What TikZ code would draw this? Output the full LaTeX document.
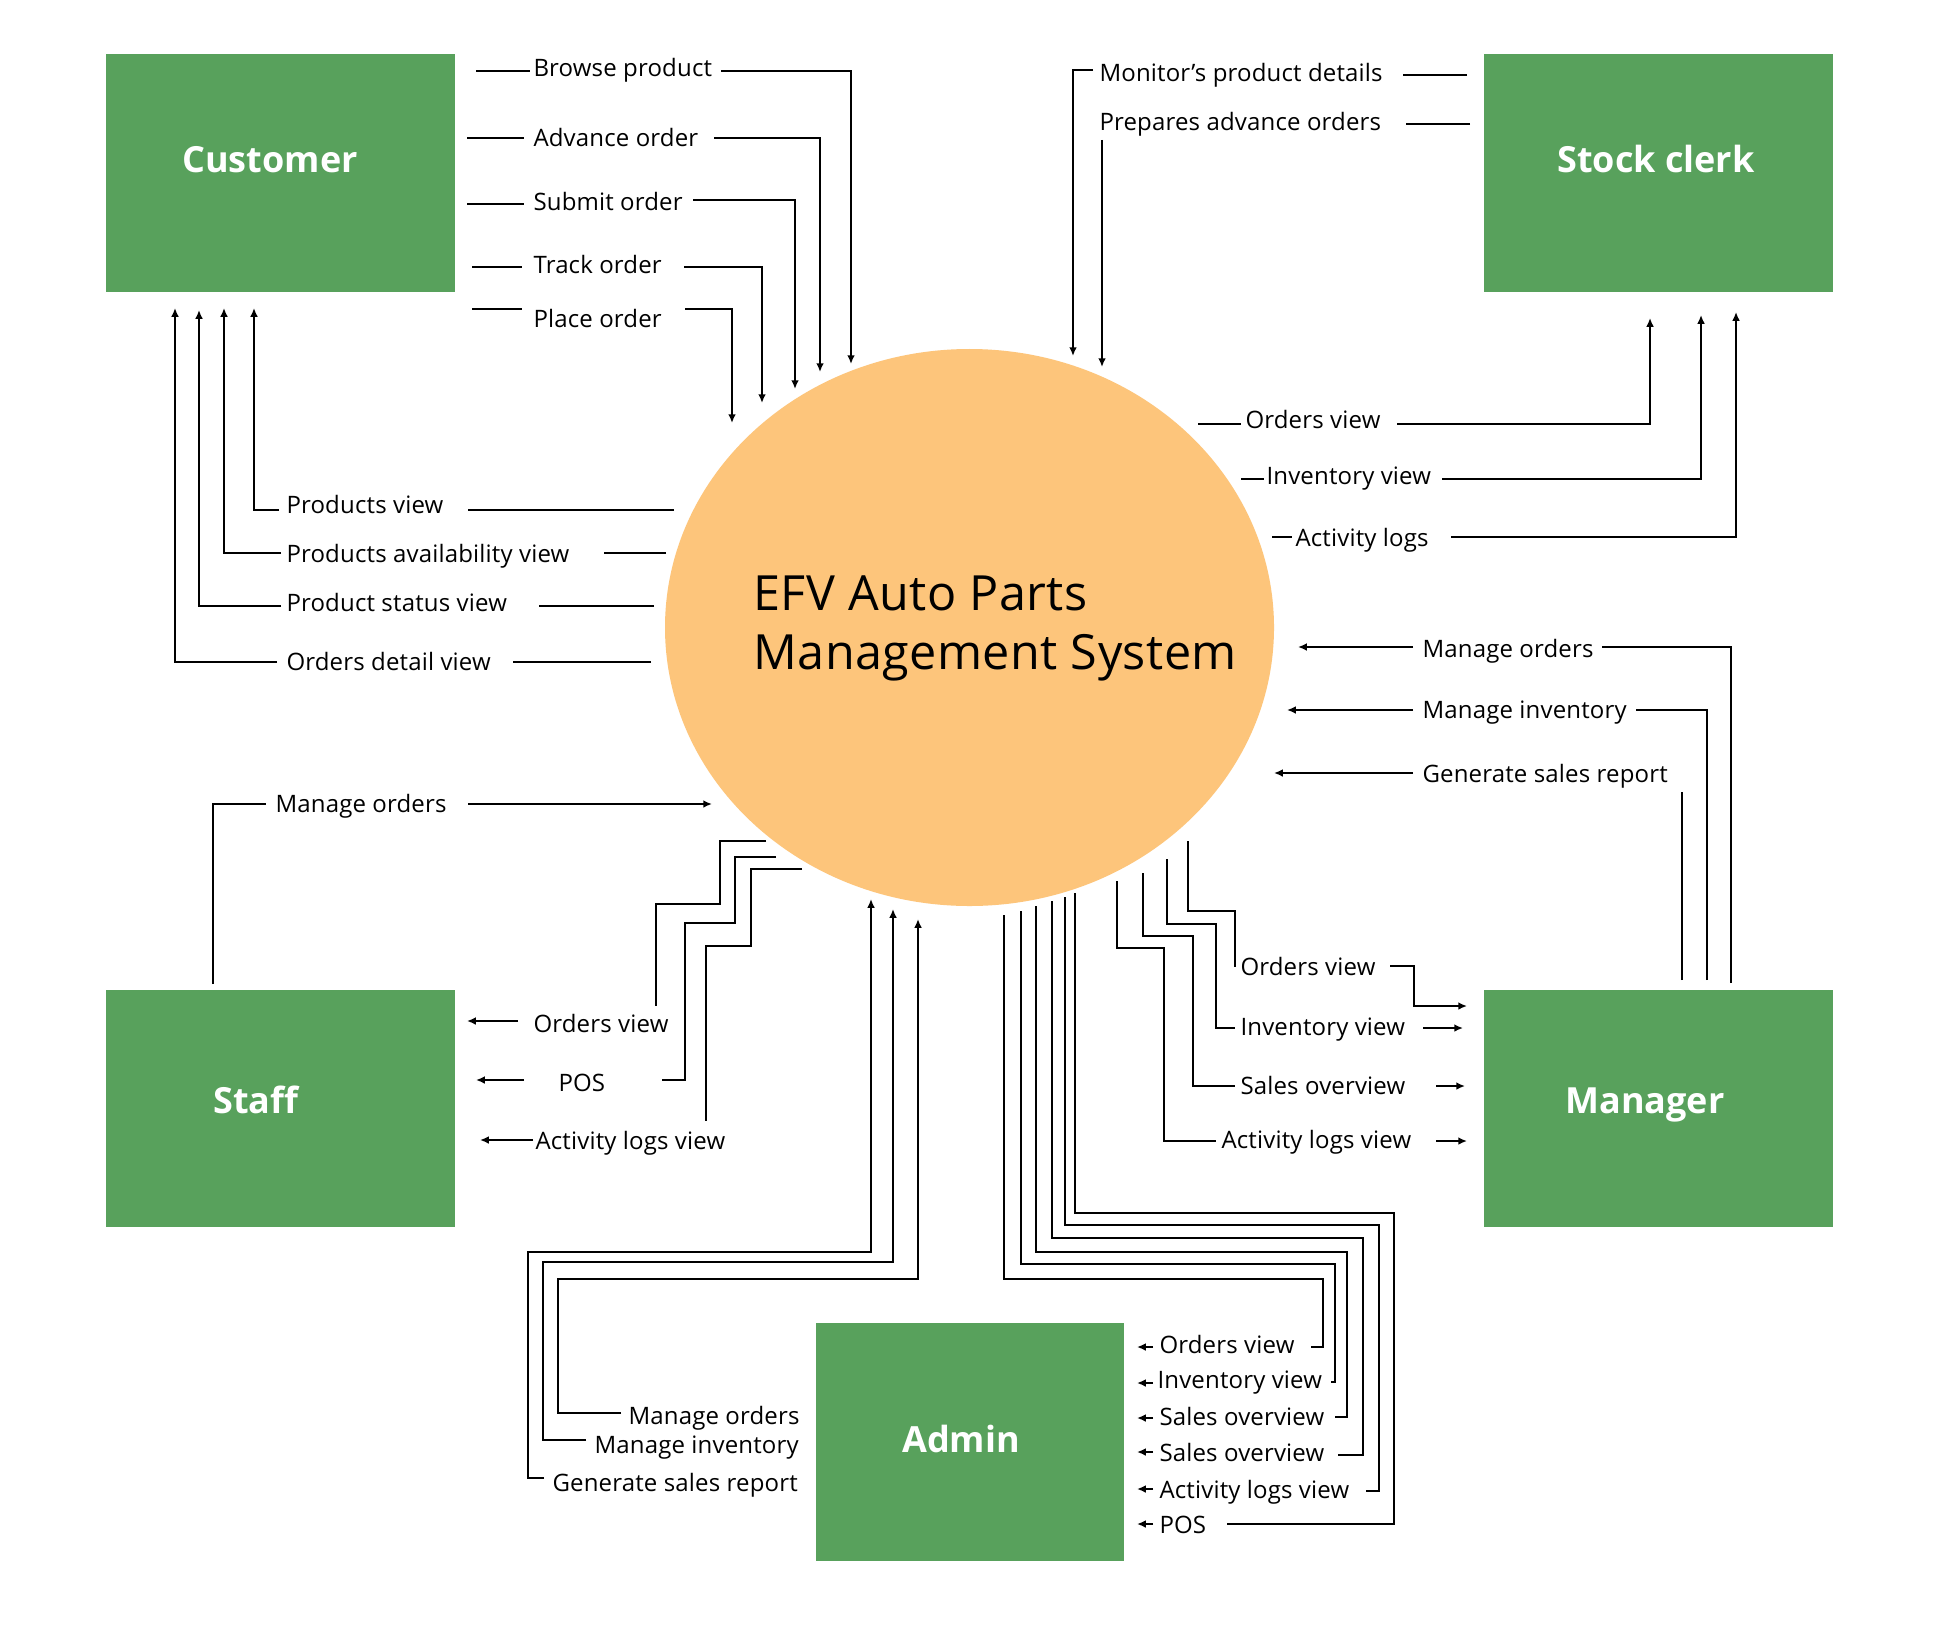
\documentclass[tikz,border=0pt]{standalone}
\usepackage{fontspec}
\setmainfont{Open Sans}
\usetikzlibrary{arrows.meta,shapes.geometric}
\definecolor{boxgreen}{HTML}{58A15C}
\definecolor{sysorange}{HTML}{FDC57B}
\begin{document}
\begin{tikzpicture}[x=0.4pt,y=-0.4pt,
  conn/.style={draw=black, line width=0.8pt},
  arr/.style={conn,-{Latex[length=3.5pt,width=3.1pt]}},
  lbl/.style={font=\fontsize{9.6}{11}\selectfont\addfontfeature{LetterSpace=0.7}, inner sep=0pt, anchor=base west},
  actor/.style={fill=boxgreen, draw=none, inner sep=0pt, anchor=north west},
  actorlbl/.style={font=\fontsize{14.4}{17}\selectfont\bfseries, text=white, inner sep=0pt, anchor=base},
  systxt/.style={font=\fontsize{19.4}{23}\selectfont\addfontfeature{LetterSpace=0.9}, inner sep=0pt, anchor=base west}
]
\fill[white] (0,0) rectangle (1938,1632);
\useasboundingbox (0,0) rectangle (1938,1632);

% ---------- actors ----------
\node[actor, minimum width=139.6pt, minimum height=94.8pt] (customer) at (105,54) {};
\node[actor, minimum width=139.6pt, minimum height=94.8pt] (stock) at (1483,54) {};
\node[actor, minimum width=139.6pt, minimum height=94.8pt] (staff) at (105,989) {};
\node[actor, minimum width=139.6pt, minimum height=94.8pt] (manager) at (1483,989) {};
\node[actor, minimum width=123.2pt, minimum height=95.2pt] (admin) at (815,1322) {};
\node[actorlbl] (customerT) at (270,173) {Customer};
\node[actorlbl] (stockT) at (1656,173) {Stock clerk};
\node[actorlbl] (staffT) at (256,1113) {Staff};
\node[actorlbl] (managerT) at (1645,1113) {Manager};
\node[actorlbl] (adminT) at (961,1452) {Admin};

% ---------- system ----------
\node[ellipse, fill=sysorange, draw=none, inner sep=0pt, minimum width=243.6pt, minimum height=222.8pt] (sys) at (969.5,627.5) {};
\node[systxt] (sysT1) at (753,610) {EFV Auto Parts};
\node[systxt] (sysT2) at (753,669) {Management System};

% ---------- Customer -> system ----------
\node[lbl] (lBrowse) at (533,77) {Browse product};
\node[lbl] (lAdv) at (533,146) {Advance order};
\node[lbl] (lSubmit) at (533,210) {Submit order};
\node[lbl] (lTrack) at (533,273) {Track order};
\node[lbl] (lPlace) at (533,327) {Place order};
\coordinate (brA) at (476,71); \coordinate (brB) at (530,71);
\coordinate (brC) at (721,71); \coordinate (brD) at (851,364);
\coordinate (adA) at (467,138); \coordinate (adB) at (524,138);
\coordinate (adC) at (714,138); \coordinate (adD) at (820,372);
\coordinate (suA) at (467,204); \coordinate (suB) at (524,204);
\coordinate (suC) at (693,200); \coordinate (suD) at (795,389);
\coordinate (trA) at (472,267); \coordinate (trB) at (522,267);
\coordinate (trC) at (684,267); \coordinate (trD) at (762,403);
\coordinate (plA) at (472,309); \coordinate (plB) at (522,309);
\coordinate (plC) at (685,309); \coordinate (plD) at (732,423);
\draw[conn] (brA) -- (brB); \draw[arr] (brC) -| (brD);
\draw[conn] (adA) -- (adB); \draw[arr] (adC) -| (adD);
\draw[conn] (suA) -- (suB); \draw[arr] (suC) -| (suD);
\draw[conn] (trA) -- (trB); \draw[arr] (trC) -| (trD);
\draw[conn] (plA) -- (plB); \draw[arr] (plC) -| (plD);

% ---------- system -> Customer ----------
\node[lbl] (lPv) at (286,513) {Products view};
\node[lbl] (lPav) at (286,562) {Products availability view};
\node[lbl] (lPsv) at (286,611) {Product status view};
\node[lbl] (lOdv) at (286,670) {Orders detail view};
\coordinate (pvA) at (674,510); \coordinate (pvB) at (468,510);
\coordinate (pvC) at (279,510); \coordinate (pvD) at (254,308);
\coordinate (paA) at (666,553); \coordinate (paB) at (604,553);
\coordinate (paC) at (281,553); \coordinate (paD) at (224,308);
\coordinate (psA) at (654,606); \coordinate (psB) at (539,606);
\coordinate (psC) at (281,606); \coordinate (psD) at (199,310);
\coordinate (odA) at (651,662); \coordinate (odB) at (513,662);
\coordinate (odC) at (277,662); \coordinate (odD) at (175,308);
\draw[conn] (pvA) -- (pvB); \draw[arr] (pvC) -| (pvD);
\draw[conn] (paA) -- (paB); \draw[arr] (paC) -| (paD);
\draw[conn] (psA) -- (psB); \draw[arr] (psC) -| (psD);
\draw[conn] (odA) -- (odB); \draw[arr] (odC) -| (odD);

% ---------- Staff -> system ----------
\node[lbl] (lSmo) at (275,812) {Manage orders};
\coordinate (smA) at (213,984); \coordinate (smB) at (266,804);
\coordinate (smC) at (468,804); \coordinate (smD) at (712,804);
\draw[conn] (smA) |- (smB); \draw[arr] (smC) -- (smD);

% ---------- system -> Staff ----------
\node[lbl] (lSov) at (533,1032) {Orders view};
\node[lbl] (lSpos) at (558,1091) {POS};
\node[lbl] (lSalv) at (535,1149) {Activity logs view};
\coordinate (soA) at (766,841); \coordinate (soB) at (656,1006);
\coordinate (soC) at (518,1021); \coordinate (soD) at (467,1021);
\coordinate (spA) at (776,857); \coordinate (spB) at (662,1080);
\coordinate (spC) at (524,1080); \coordinate (spD) at (476,1080);
\coordinate (saA) at (802,869); \coordinate (saB) at (706,1121);
\coordinate (saC) at (533,1140); \coordinate (saD) at (480,1140);
\draw[conn] (soA) -| (720,904) -| (soB); \draw[arr] (soC) -- (soD);
\draw[conn] (spA) -| (735,923) -| (685,1080) -- (spB); \draw[arr] (spC) -- (spD);
\draw[conn] (saA) -| (751,946) -| (saB); \draw[arr] (saC) -- (saD);

% ---------- Admin -> system ----------
\node[lbl] (lAmo) at (628,1424) {Manage orders};
\node[lbl] (lAmi) at (594,1453) {Manage inventory};
\node[lbl] (lAgs) at (552,1491) {Generate sales report};
\coordinate (amA) at (621,1413); \coordinate (amB) at (918,919);
\coordinate (aiA) at (586,1440); \coordinate (aiB) at (893,909);
\coordinate (agA) at (544,1478); \coordinate (agB) at (871,899);
\draw[arr] (amA) -| (558,1279) -| (amB);
\draw[arr] (aiA) -| (543,1262) -| (aiB);
\draw[arr] (agA) -| (528,1252) -| (agB);

% ---------- system -> Admin ----------
\node[lbl] (lAov) at (1159,1353) {Orders view};
\node[lbl] (lAiv) at (1157,1388) {Inventory view};
\node[lbl] (lAso1) at (1159,1425) {Sales overview};
\node[lbl] (lAso2) at (1159,1461) {Sales overview};
\node[lbl] (lAalv) at (1159,1498) {Activity logs view};
\node[lbl] (lApos) at (1159,1533) {POS};
\coordinate (x1A) at (1004,915); \coordinate (x1B) at (1311,1347);
\coordinate (x2A) at (1021,911); \coordinate (x2B) at (1331,1382);
\coordinate (x3A) at (1036,906); \coordinate (x3B) at (1335,1417);
\coordinate (x4A) at (1052,901); \coordinate (x4B) at (1338,1455);
\coordinate (x5A) at (1065,897); \coordinate (x5B) at (1366,1491);
\coordinate (x6A) at (1075,893); \coordinate (x6B) at (1227,1524);
\draw[conn] (x1A) |- (1323,1279) |- (x1B);
\draw[conn] (x2A) |- (1335,1264) |- (x2B);
\draw[conn] (x3A) |- (1347,1252) |- (x3B);
\draw[conn] (x4A) |- (1363,1238) |- (x4B);
\draw[conn] (x5A) |- (1379,1225) |- (x5B);
\draw[conn] (x6A) |- (1394,1213) |- (x6B);
\coordinate (t1A) at (1153,1347); \coordinate (t1B) at (1137,1347);
\coordinate (t2A) at (1153,1383); \coordinate (t2B) at (1137,1383);
\coordinate (t3A) at (1153,1418); \coordinate (t3B) at (1137,1418);
\coordinate (t4A) at (1153,1452); \coordinate (t4B) at (1137,1452);
\coordinate (t5A) at (1153,1489); \coordinate (t5B) at (1137,1489);
\coordinate (t6A) at (1153,1524); \coordinate (t6B) at (1137,1524);
\foreach \i in {1,...,6} {\draw[arr] (t\i A) -- (t\i B);}

% ---------- system -> Manager ----------
\node[lbl] (lMov) at (1240,975) {Orders view};
\node[lbl] (lMiv) at (1240,1035) {Inventory view};
\node[lbl] (lMso) at (1240,1094) {Sales overview};
\node[lbl] (lMalv) at (1221,1148) {Activity logs view};
\coordinate (moA) at (1188,841); \coordinate (moB) at (1235,967);
\coordinate (moC) at (1390,966); \coordinate (moD) at (1467,1006);
\coordinate (miA) at (1167,859); \coordinate (miB) at (1235,1028);
\coordinate (miC) at (1423,1028); \coordinate (miD) at (1463,1028);
\coordinate (msA) at (1143,873); \coordinate (msB) at (1235,1086);
\coordinate (msC) at (1436,1086); \coordinate (msD) at (1465,1086);
\coordinate (maA) at (1117,881); \coordinate (maB) at (1216,1141);
\coordinate (maC) at (1436,1141); \coordinate (maD) at (1467,1141);
\draw[conn] (moA) |- (1235,911) -- (moB); \draw[arr] (moC) -| (1414,1006) -- (moD);
\draw[conn] (miA) |- (1216,924) |- (miB); \draw[arr] (miC) -- (miD);
\draw[conn] (msA) |- (1193,936) |- (msB); \draw[arr] (msC) -- (msD);
\draw[conn] (maA) |- (1164,948) |- (maB); \draw[arr] (maC) -- (maD);

% ---------- Manager -> system ----------
\node[lbl] (lMmo) at (1422,657) {Manage orders};
\node[lbl] (lMmi) at (1422,718) {Manage inventory};
\node[lbl] (lMgs) at (1422,782) {Generate sales report};
\coordinate (gmA) at (1731,983); \coordinate (gmB) at (1602,647);
\coordinate (gmC) at (1413,647); \coordinate (gmD) at (1298,647);
\coordinate (giA) at (1707,980); \coordinate (giB) at (1636,710);
\coordinate (giC) at (1413,710); \coordinate (giD) at (1287,710);
\coordinate (ggA) at (1682,980); \coordinate (ggB) at (1682,792);
\coordinate (ggC) at (1413,773); \coordinate (ggD) at (1274,773);
\draw[conn] (gmA) |- (gmB); \draw[arr] (gmC) -- (gmD);
\draw[conn] (giA) |- (giB); \draw[arr] (giC) -- (giD);
\draw[conn] (ggA) -- (ggB); \draw[arr] (ggC) -- (ggD);

% ---------- Stock clerk -> system ----------
\node[lbl] (lMon) at (1099,82) {Monitor’s product details};
\node[lbl] (lPrep) at (1099,130) {Prepares advance orders};
\coordinate (mnA) at (1467,75); \coordinate (mnB) at (1403,75);
\coordinate (mnC) at (1093,70); \coordinate (mnD) at (1073,356);
\coordinate (prA) at (1470,124); \coordinate (prB) at (1406,124);
\coordinate (prC) at (1102,140); \coordinate (prD) at (1102,367);
\draw[conn] (mnA) -- (mnB); \draw[arr] (mnC) -| (mnD);
\draw[conn] (prA) -- (prB); \draw[arr] (prC) -- (prD);

% ---------- system -> Stock clerk ----------
\node[lbl] (lKov) at (1245,428) {Orders view};
\node[lbl] (lKiv) at (1266,484) {Inventory view};
\node[lbl] (lKal) at (1295,546) {Activity logs};
\coordinate (koA) at (1198,424); \coordinate (koB) at (1241,424);
\coordinate (koC) at (1397,424); \coordinate (koD) at (1650,318);
\coordinate (kiA) at (1241,479); \coordinate (kiB) at (1264,479);
\coordinate (kiC) at (1442,479); \coordinate (kiD) at (1701,315);
\coordinate (kaA) at (1272,537); \coordinate (kaB) at (1292,537);
\coordinate (kaC) at (1451,537); \coordinate (kaD) at (1736,312);
\draw[conn] (koA) -- (koB); \draw[arr] (koC) -| (koD);
\draw[conn] (kiA) -- (kiB); \draw[arr] (kiC) -| (kiD);
\draw[conn] (kaA) -- (kaB); \draw[arr] (kaC) -| (kaD);
\end{tikzpicture}
\end{document}
